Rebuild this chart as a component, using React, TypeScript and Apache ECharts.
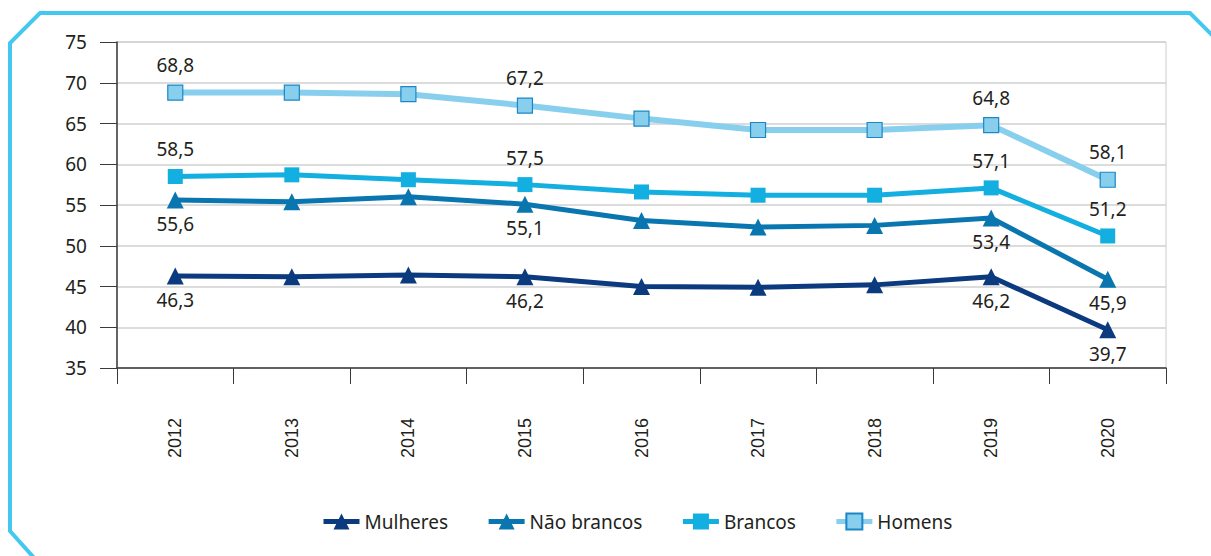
import React, { useEffect, useRef } from "react";
import * as echarts from "echarts";

const years = ["2012", "2013", "2014", "2015", "2016", "2017", "2018", "2019", "2020"];
const mulheres = [46.3, 46.2, 46.4, 46.2, 45.0, 44.9, 45.2, 46.2, 39.7];
const naoBrancos = [55.6, 55.4, 56.0, 55.1, 53.1, 52.3, 52.5, 53.4, 45.9];
const brancos = [58.5, 58.7, 58.1, 57.5, 56.6, 56.2, 56.2, 57.1, 51.2];
const homens = [68.8, 68.8, 68.6, 67.2, 65.6, 64.2, 64.2, 64.8, 58.1];
const labeledIdx = [0, 3, 7, 8];

const FONT = "'Noto Sans', 'Open Sans', sans-serif";

export default function App() {
  const ref = useRef<HTMLDivElement>(null);
  useEffect(() => {
    document.body.style.margin = "0";
    const chart = echarts.init(ref.current!, null, { renderer: "svg" });
    const mkLabel = (pos: string, dist: number) => ({
      show: true,
      position: pos,
      distance: dist,
      fontFamily: FONT,
      fontSize: 19,
      color: "#231f20",
      formatter: (p: any) =>
        labeledIdx.includes(p.dataIndex) ? String(p.value).replace(".", ",") : "",
    });
    const mk = (name: string, data: number[], color: string, symbol: string, size: number, lw: number, pos: string, dist: number, itemStyle?: any) => ({
      name,
      type: "line",
      data,
      symbol,
      symbolSize: size,
      color,
      lineStyle: { color, width: lw },
      itemStyle: itemStyle || { color },
      label: mkLabel(pos, dist),
    });
    chart.setOption({
      animation: false,
      grid: {
        left: 117,
        right: 45,
        top: 42,
        bottom: 188,
        show: true,
        borderColor: "#cccccc",
        borderWidth: 1,
      },
      legend: {
        bottom: 20,
        left: 316,
        itemWidth: 36,
        itemHeight: 20,
        itemGap: 38,
        lineStyle: { width: 5 },
        textStyle: { fontFamily: FONT, fontSize: 19, color: "#231f20" },
        data: ["Mulheres", "Não brancos", "Brancos", "Homens"],
      },
      xAxis: {
        type: "category",
        data: years,
        boundaryGap: true,
        axisLine: { lineStyle: { color: "#3a3a3a", width: 1.5 } },
        axisTick: { show: true, length: 16, lineStyle: { color: "#3a3a3a" } },
        axisLabel: {
          rotate: 90,
          margin: 50,
          fontFamily: "'Liberation Sans', Arial, sans-serif",
          fontSize: 18,
          color: "#231f20",
        },
        splitLine: { show: false },
      },
      yAxis: {
        type: "value",
        min: 35,
        max: 75,
        interval: 5,
        axisLine: { show: true, lineStyle: { color: "#3a3a3a", width: 1.5 } },
        axisTick: { show: true, length: 17, lineStyle: { color: "#3a3a3a" } },
        axisLabel: { margin: 30, fontFamily: FONT, fontSize: 19, color: "#231f20" },
        splitLine: { lineStyle: { color: "#d0d0d0", width: 1.5 } },
      },
      series: [
        mk("Mulheres", mulheres, "#0b3a7e", "triangle", 17, 5, "bottom", 6),
        mk("Não brancos", naoBrancos, "#0a76b0", "triangle", 17, 5, "bottom", 6),
        mk("Brancos", brancos, "#12afe0", "rect", 15, 5, "top", 10),
        mk("Homens", homens, "#88cfee", "rect", 15, 6, "top", 10, {
          color: "#88cfee",
          borderColor: "#1b87c6",
          borderWidth: 1.2,
        }),
      ],
      graphic: [
        {
          type: "polyline",
          shape: { points: [[36, 560], [10, 531], [10, 43], [40, 13], [1190, 13], [1216, 39]] },
          style: { stroke: "#45c8f0", lineWidth: 4, fill: "none" },
          silent: true,
        },
      ],
    });
    return () => chart.dispose();
  }, []);
  return <div ref={ref} style={{ position: "absolute", left: 0, top: 0, width: 1211, height: 556 }} />;
}
